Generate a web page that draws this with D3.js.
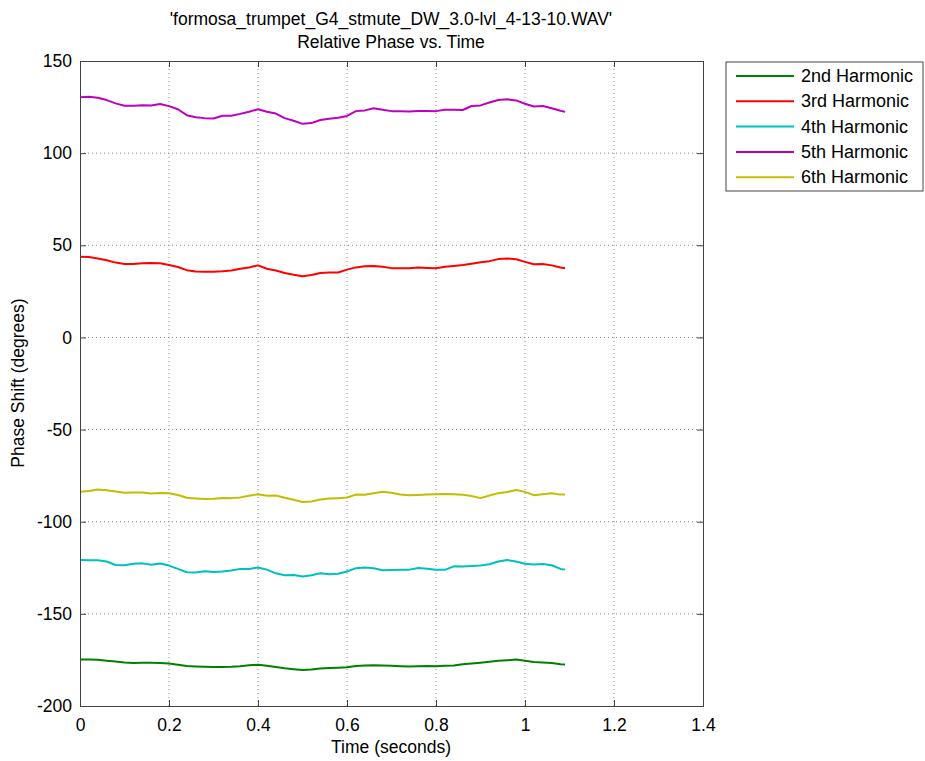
<!DOCTYPE html>
<html>
<head>
<meta charset="utf-8">
<script src="https://cdn.jsdelivr.net/npm/d3@7"></script>
<style>
  body { margin: 0; background: #fff; }
  text { font-family: "Liberation Sans", Arial, sans-serif; fill: #000; }
</style>
</head>
<body>
<svg id="chart" width="925" height="761"></svg>
<script>
// time samples (seconds)
const times = [0, 0.02, 0.04, 0.06, 0.08, 0.10, 0.12, 0.14, 0.16, 0.18,
  0.20, 0.22, 0.24, 0.26, 0.28, 0.30, 0.32, 0.34, 0.36, 0.38,
  0.40, 0.42, 0.44, 0.46, 0.48, 0.50, 0.52, 0.54, 0.56, 0.58,
  0.60, 0.62, 0.64, 0.66, 0.68, 0.70, 0.72, 0.74, 0.76, 0.78,
  0.80, 0.82, 0.84, 0.86, 0.88, 0.90, 0.92, 0.94, 0.96, 0.98,
  1.00, 1.02, 1.04, 1.06, 1.08, 1.09];

const h2 = [-174.7, -174.7, -174.9, -175.4, -175.9, -176.4, -176.6, -176.5, -176.5, -176.6,
  -176.9, -177.6, -178.3, -178.5, -178.7, -178.8, -178.8, -178.7, -178.4, -177.9,
  -177.6, -178.2, -178.8, -179.5, -180.0, -180.4, -180.2, -179.6, -179.4, -179.2,
  -179.0, -178.3, -178.0, -177.9, -178.0, -178.2, -178.4, -178.6, -178.4, -178.3,
  -178.4, -178.2, -178.0, -177.4, -176.9, -176.5, -176.0, -175.5, -175.2, -174.8,
  -175.5, -176.1, -176.4, -176.7, -177.3, -177.5];

const h3 = [43.8, 43.6, 42.8, 41.9, 40.6, 39.9, 39.9, 40.3, 40.4, 40.2,
  39.3, 38.2, 36.5, 35.8, 35.7, 35.7, 35.9, 36.3, 37.3, 38.0,
  39.1, 37.3, 36.3, 35.0, 34.0, 33.2, 33.9, 35.0, 35.2, 35.2,
  36.8, 38.0, 38.6, 38.8, 38.4, 37.6, 37.5, 37.5, 37.9, 37.7,
  37.5, 38.3, 38.8, 39.3, 40.0, 40.8, 41.4, 42.5, 42.8, 42.4,
  41.0, 39.7, 39.8, 39.1, 37.9, 37.5];

const h4 = [-120.8, -120.9, -120.9, -121.6, -123.5, -123.6, -122.8, -122.6, -123.4, -122.7,
  -123.8, -125.6, -127.4, -127.5, -126.9, -127.3, -127.0, -126.5, -125.6, -125.6,
  -124.8, -126.0, -128.0, -129.1, -128.9, -129.7, -129.0, -128.0, -128.5, -128.2,
  -127.0, -125.2, -124.9, -125.2, -126.3, -126.2, -126.1, -126.0, -125.1, -125.5,
  -126.1, -126.1, -124.2, -124.3, -124.0, -123.7, -123.1, -121.6, -120.8, -121.6,
  -122.8, -123.2, -123.0, -123.6, -125.6, -126.0];

const h5 = [130.3, 130.6, 130.1, 128.8, 127.0, 125.7, 125.7, 126.0, 125.8, 126.7,
  125.5, 123.8, 120.6, 119.5, 119.0, 118.8, 120.3, 120.3, 121.3, 122.5,
  123.8, 122.5, 121.5, 119.0, 117.6, 115.9, 116.3, 118.0, 118.6, 119.2,
  120.2, 122.8, 123.2, 124.4, 123.5, 122.8, 122.7, 122.6, 122.9, 122.9,
  122.8, 123.6, 123.6, 123.4, 125.6, 125.9, 127.5, 128.8, 129.2, 128.6,
  126.8, 125.3, 125.6, 124.4, 123.0, 122.4];

const h6 = [-83.7, -83.3, -82.5, -82.9, -83.6, -84.3, -84.2, -84.2, -84.7, -84.4,
  -84.5, -85.5, -87.0, -87.4, -87.7, -87.6, -87.1, -87.2, -86.8, -85.9,
  -85.1, -85.9, -85.8, -87.0, -88.1, -89.3, -89.0, -88.0, -87.4, -87.2,
  -86.9, -85.3, -85.4, -84.5, -83.8, -84.3, -85.2, -85.6, -85.5, -85.3,
  -85.1, -85.0, -85.1, -85.4, -86.1, -87.2, -85.8, -84.5, -83.9, -82.8,
  -83.8, -85.6, -85.1, -84.6, -85.3, -85.3];

const seriesNames = ["2nd Harmonic", "3rd Harmonic", "4th Harmonic", "5th Harmonic", "6th Harmonic"];
const seriesValues = [h2, h3, h4, h5, h6];
const seriesColors = ["#008000", "#ff0000", "#00bfbf", "#bf00bf", "#bfbf00"];

const xTicks = [0, 0.2, 0.4, 0.6, 0.8, 1, 1.2, 1.4];
const yTicks = [-200, -150, -100, -50, 0, 50, 100, 150];

const svg = d3.select("#chart");
const margin = { top: 61, left: 80 };
const width = 623, height = 645;
const fs = "17.5px";

const g = svg.append("g").attr("transform", `translate(${margin.left},${margin.top})`);

const x = d3.scaleLinear().domain([0, 1.4]).range([0, width]);
const y = d3.scaleLinear().domain([-200, 150]).range([height, 0]);

// grid
g.selectAll(".vgrid")
    .data(xTicks.slice(1, -1))
    .enter().append("line")
    .attr("x1", d => x(d)).attr("x2", d => x(d))
    .attr("y1", 0).attr("y2", height)
    .attr("stroke", "#888").attr("stroke-width", 1)
    .attr("stroke-dasharray", "1,3");

g.selectAll(".hgrid")
    .data(yTicks.slice(1, -1))
    .enter().append("line")
    .attr("x1", 0).attr("x2", width)
    .attr("y1", d => y(d)).attr("y2", d => y(d))
    .attr("stroke", "#888").attr("stroke-width", 1)
    .attr("stroke-dasharray", "1,3");

// lines
const line = d3.line()
    .x((d, i) => x(times[i]))
    .y(d => y(d));

seriesValues.forEach((vals, i) => {
    g.append("path")
        .datum(vals)
        .attr("fill", "none")
        .attr("stroke", seriesColors[i])
        .attr("stroke-width", 2)
        .attr("stroke-linejoin", "round")
        .attr("d", line);
});

// axes, ticks point inward like matlab
const tick = 6;
const plain = d => String(d);
const axB = g.append("g").attr("transform", `translate(0,${height})`)
    .call(d3.axisBottom(x).tickValues(xTicks).tickSize(-tick).tickPadding(tick + 7).tickFormat(plain));
const axT = g.append("g")
    .call(d3.axisTop(x).tickValues(xTicks).tickSize(-tick).tickFormat(""));
const axL = g.append("g")
    .call(d3.axisLeft(y).tickValues(yTicks).tickSize(-tick).tickPadding(tick + 2).tickFormat(plain));
const axR = g.append("g").attr("transform", `translate(${width},0)`)
    .call(d3.axisRight(y).tickValues(yTicks).tickSize(-tick).tickFormat(""));

[axB, axT, axL, axR].forEach(a => {
    a.selectAll("path").attr("stroke", "#444");
    a.selectAll("line").attr("stroke", "#444");
    a.selectAll("text").style("font-size", fs).attr("fill", "#000");
});

// titles
svg.append("text").attr("x", 391).attr("y", 25).attr("text-anchor", "middle")
    .style("font-size", fs).text("'formosa_trumpet_G4_stmute_DW_3.0-lvl_4-13-10.WAV'");
svg.append("text").attr("x", 391).attr("y", 48).attr("text-anchor", "middle")
    .style("font-size", fs).text("Relative Phase vs. Time");
svg.append("text").attr("x", 391).attr("y", 753).attr("text-anchor", "middle")
    .style("font-size", fs).text("Time (seconds)");
svg.append("text").attr("transform", "translate(24,383) rotate(-90)").attr("text-anchor", "middle")
    .style("font-size", fs).text("Phase Shift (degrees)");

// legend
const legend = svg.append("g").attr("transform", "translate(726,62)");
legend.append("rect").attr("width", 197).attr("height", 129)
    .attr("fill", "#fff").attr("stroke", "#444");
seriesNames.forEach((name, i) => {
    const ly = 14 + i * 25.3;
    legend.append("line").attr("x1", 10).attr("x2", 68).attr("y1", ly).attr("y2", ly)
        .attr("stroke", seriesColors[i]).attr("stroke-width", 2);
    legend.append("text").attr("x", 75).attr("y", ly + 6).style("font-size", "18px").text(name);
});
</script>
</body>
</html>
